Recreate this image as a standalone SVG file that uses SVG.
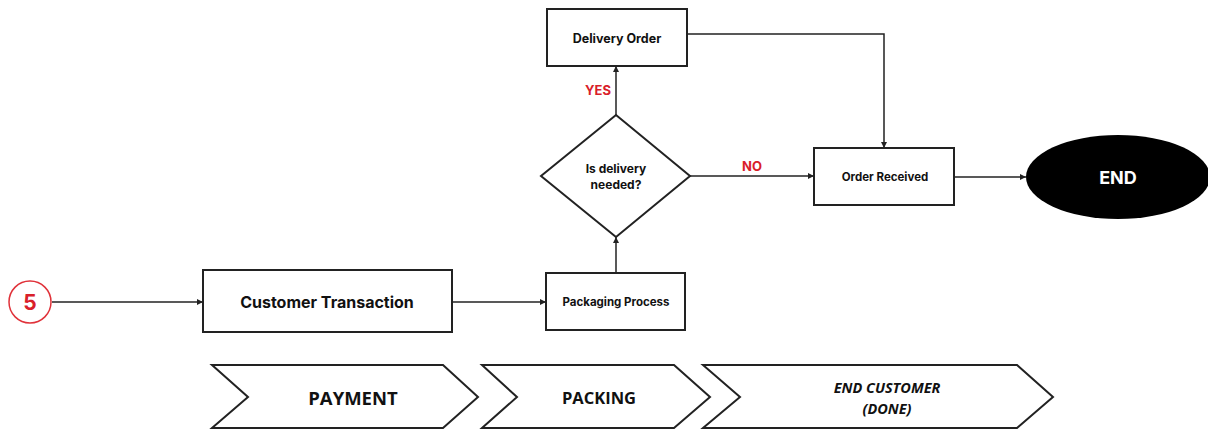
<svg xmlns="http://www.w3.org/2000/svg" width="1208" height="430" viewBox="0 0 1208 430">
<defs>
<marker id="ah" viewBox="0 0 10 10" refX="10" refY="5" markerWidth="6" markerHeight="6" orient="auto" markerUnits="userSpaceOnUse">
<path d="M0,0 L10,5 L0,10 z" fill="#222"/>
</marker>
</defs>
<style>
.box{fill:#fff;stroke:#222;stroke-width:2}
.chev{fill:#fff;stroke:#222;stroke-width:2;stroke-linejoin:miter}
.t{font-family:Inter,"Open Sans",sans-serif;font-weight:700;fill:#111;text-anchor:middle;dominant-baseline:central}
.c{font-family:"Open Sans","Liberation Sans",sans-serif;font-weight:700;fill:#111;text-anchor:middle;dominant-baseline:central}
.lab{font-family:Inter,"Open Sans",sans-serif;font-weight:700;fill:#d9202a;text-anchor:middle;dominant-baseline:central;font-size:13px}
.conn{fill:none;stroke:#222;stroke-width:1.5;marker-end:url(#ah)}
</style>
<rect width="1208" height="430" fill="#fff"/>
<g id="connectors">
<line class="conn" x1="52" y1="302" x2="203" y2="302"/>
<line class="conn" x1="452" y1="302" x2="546" y2="302"/>
<line class="conn" x1="616" y1="273" x2="616" y2="237"/>
<line class="conn" x1="616" y1="115" x2="616" y2="66"/>
<line class="conn" x1="690" y1="176" x2="814" y2="176"/>
<polyline class="conn" points="687,34 884,34 884,148"/>
<line class="conn" x1="954" y1="177" x2="1026" y2="177"/>
<text class="lab" x="598" y="90">YES</text>
<text class="lab" x="752" y="166">NO</text>
</g>
<g id="start">
<circle cx="30" cy="302" r="21" fill="#fff" stroke="#e0323a" stroke-width="1.5"/>
<text x="30" y="302" font-family="Inter,'Open Sans',sans-serif" font-weight="700" font-size="21" fill="#d9202a" text-anchor="middle" dominant-baseline="central">5</text>
</g>
<g id="customer-transaction">
<rect class="box" x="203" y="270" width="249" height="62"/>
<text class="t" x="327" y="302" font-size="16">Customer Transaction</text>
</g>
<g id="packaging-process">
<rect class="box" x="546" y="273" width="139" height="57"/>
<text class="t" x="616" y="302" font-size="11.5">Packaging Process</text>
</g>
<g id="decision">
<polygon class="box" points="616,115 690,176 616,237 541,176"/>
<text class="t" x="616" y="168" font-size="12">Is delivery</text>
<text class="t" x="616" y="184" font-size="12">needed?</text>
</g>
<g id="delivery-order">
<rect class="box" x="547" y="9" width="140" height="57"/>
<text class="t" x="617" y="38" font-size="12.5">Delivery Order</text>
</g>
<g id="order-received">
<rect class="box" x="814" y="148" width="140" height="57"/>
<text class="t" x="885" y="177" font-size="11.5">Order Received</text>
</g>
<g id="end">
<ellipse cx="1118" cy="177" rx="92" ry="42" fill="#000"/>
<text x="1118" y="177" font-family="Inter,'Open Sans',sans-serif" font-weight="700" font-size="18" fill="#fff" text-anchor="middle" dominant-baseline="central">END</text>
</g>
<g id="phase-payment">
<polygon class="chev" points="212,365 443,365 478,397 443,428 212,428 248,397"/>
<text class="c" x="353" y="397" font-size="18.5">PAYMENT</text>
</g>
<g id="phase-packing">
<polygon class="chev" points="482,365 674,365 710,397 674,428 482,428 517,397"/>
<text class="c" x="599" y="397" font-size="16.5">PACKING</text>
</g>
<g id="phase-end">
<polygon class="chev" points="703,365 1017,365 1053,397 1017,428 703,428 740,397"/>
<text class="c" x="887" y="387" font-size="14.5" font-style="italic">END CUSTOMER</text>
<text class="c" x="887" y="408" font-size="14.5" font-style="italic">(DONE)</text>
</g>
</svg>
